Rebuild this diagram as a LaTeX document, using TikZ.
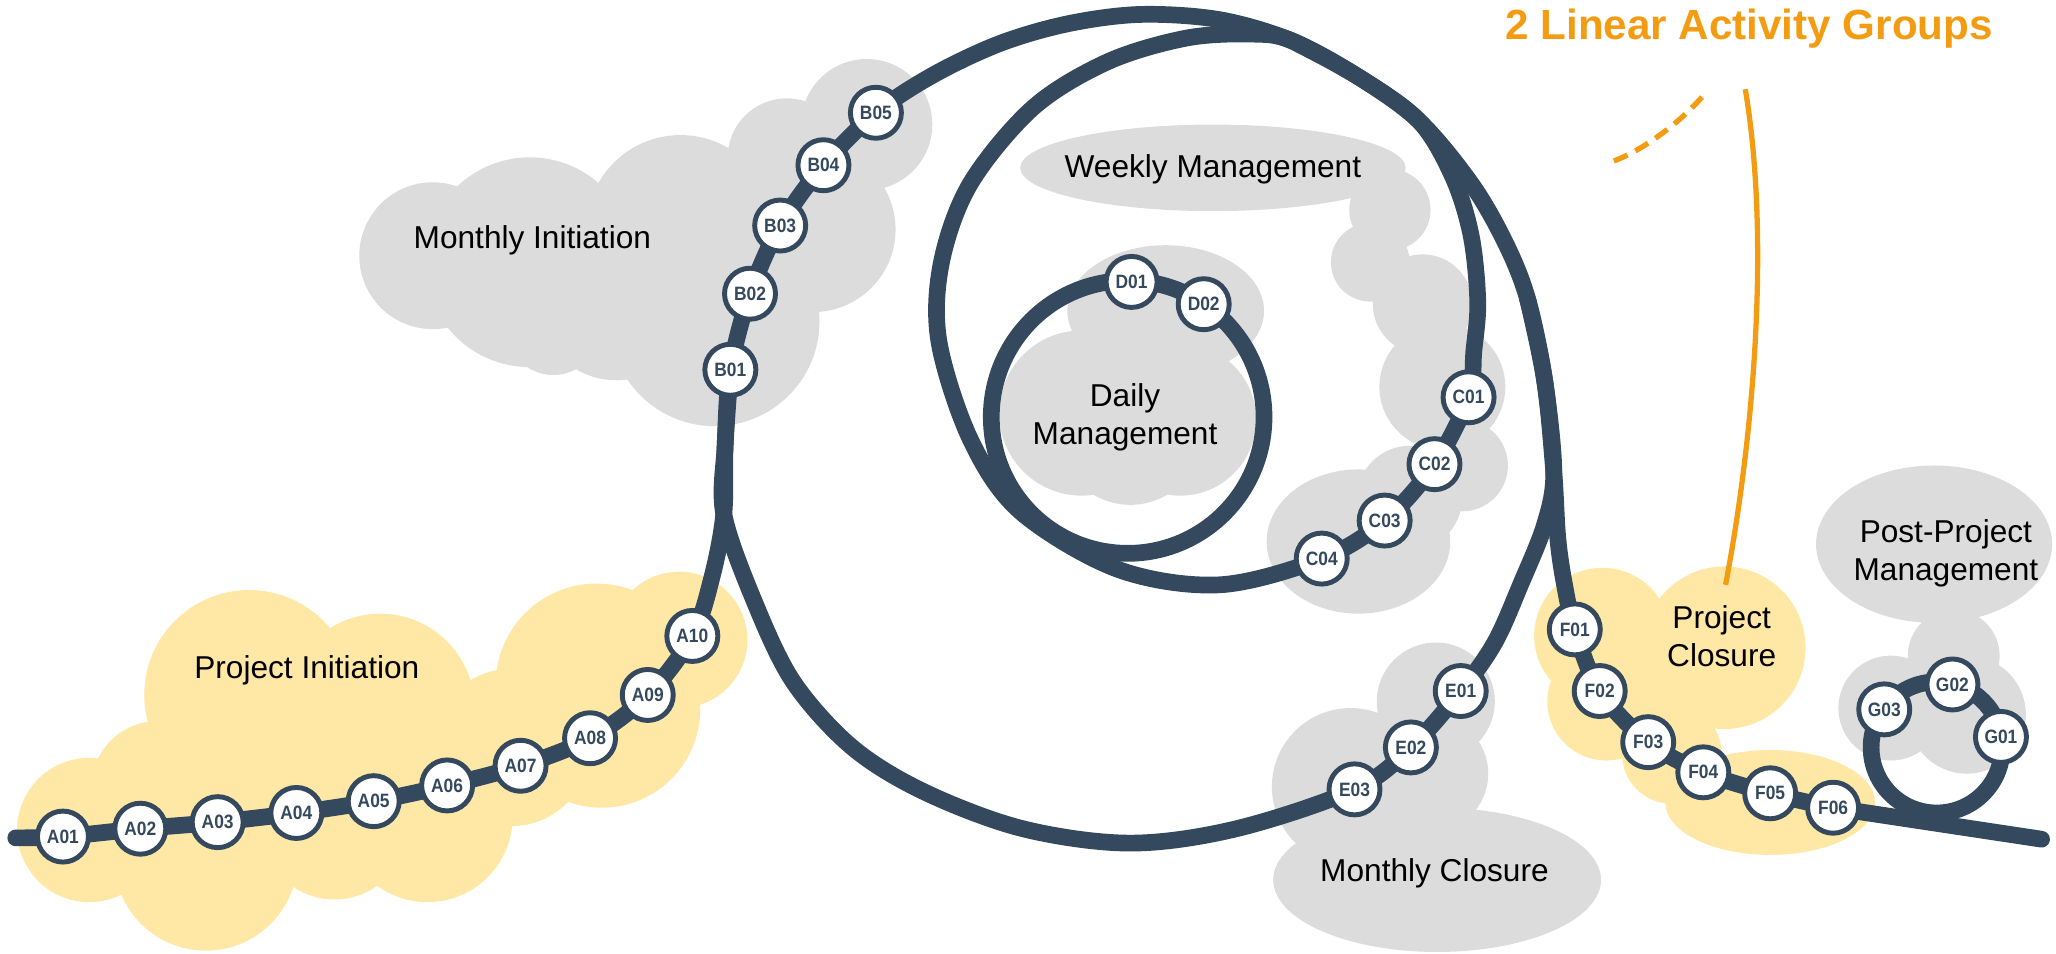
\documentclass[tikz,border=0pt]{standalone}
\usepackage{fontspec}
\setmainfont{Liberation Sans}
\newfontfamily\stationfont[FakeStretch=0.9]{Liberation Sans}
\usepackage{tikz}
\usetikzlibrary{calc}

\definecolor{navy}{HTML}{34495E}
\definecolor{cloudgray}{HTML}{DCDCDC}
\definecolor{cloudyellow}{HTML}{FFE8A5}
\definecolor{accent}{HTML}{F39C12}

\pgfdeclarelayer{clouds}
\pgfdeclarelayer{lines}
\pgfsetlayers{clouds,lines,main}

\tikzset{
	station/.style={circle, draw=navy, fill=white, line width=2.8pt, minimum size=1.02cm,
		inner sep=0pt, text=navy, font=\stationfont\bfseries\fontsize{11}{11}\selectfont},
	track/.style={draw=navy, line width=9.5pt, line cap=round, line join=round},
	graycloud/.style={fill=cloudgray},
	yellowcloud/.style={fill=cloudyellow},
	phase/.style={align=center, font=\fontsize{18}{21.6}\selectfont},
	pointer/.style={draw=accent, line width=3pt},
}

\begin{document}
\begin{tikzpicture}[x=0.026224cm, y=-0.026224cm]
	\useasboundingbox (0,0) rectangle (1568,727);
	
	% stations
	\foreach \n/\px/\py in {01/48/638, 02/107/632, 03/166/627, 04/226/620, 05/285/611,
		06/341/599, 07/397/584, 08/450/563, 09/494/530, 10/528/485}
		\node[station] (A\n) at (\px,\py) {A\n};
	\foreach \n/\px/\py in {01/557/282, 02/572/224, 03/595/172, 04/628/126, 05/668/86}
		\node[station] (B\n) at (\px,\py) {B\n};
	\foreach \n/\px/\py in {01/1120/303, 02/1094/354, 03/1056/397, 04/1008/426}
		\node[station] (C\n) at (\px,\py) {C\n};
	\foreach \n/\px/\py in {01/863/215, 02/918/232}
		\node[station] (D\n) at (\px,\py) {D\n};
	\foreach \n/\px/\py in {01/1114/527, 02/1076/570, 03/1033/602}
		\node[station] (E\n) at (\px,\py) {E\n};
	\foreach \n/\px/\py in {01/1201/480, 02/1220/527, 03/1257/566, 04/1299/589, 05/1350/605, 06/1398/616}
		\node[station] (F\n) at (\px,\py) {F\n};
	\foreach \n/\px/\py in {01/1526/562, 02/1489/522, 03/1437/541}
		\node[station] (G\n) at (\px,\py) {G\n};
	
	\coordinate (trackstart) at (12,639);
	\coordinate (trackend) at (1557,640);
	\coordinate (dailyhub) at (860,318);
	\coordinate (posthub) at (1477,570);
	
	% phase labels
	\node[phase] (pinit) at (234,511) {Project Initiation};
	\node[phase] (minit) at (406,183) {Monthly Initiation};
	\node[phase] (wmgmt) at (925,129) {Weekly Management};
	\node[phase] (dmgmt) at (858,318) {Daily\\Management};
	\node[phase] (mclose) at (1094,666) {Monthly Closure};
	\node[phase] (pclose) at (1313,485) {Project\\Closure};
	\node[phase] (postmgmt) at (1484,422) {Post-Project\\Management};
	
	\node[text=accent, font=\bfseries\fontsize{24}{28}\selectfont] (groups) at (1334,22) {2 Linear Activity Groups};
	\coordinate (solidtop) at (1331,68);
	\coordinate (solidend) at (1316,446);
	\coordinate (dashtop) at (1298,74);
	\coordinate (dashend) at (1230,123);
	\draw[pointer] (solidtop) .. controls (1350,180) and (1338,330) .. (solidend);
	\draw[pointer, dash pattern=on 8.5pt off 5pt] (dashtop) .. controls (1278,97) and (1248,117) .. (dashend);
	
	\begin{pgfonlayer}{lines}
		% project track
		\draw[track] plot[smooth, tension=0.55] coordinates {(trackstart) (A01.center) (A02.center)
			(A03.center) (A04.center) (A05.center) (A06.center) (A07.center) (A08.center)
			(A09.center) (A10.center) (543,440) (552,392) (553,340) (B01.center) (B02.center)
			(B03.center) (B04.center) (B05.center) (712,57) (763,33) (815,18) (870,11) (930,15)
			(985,31) (1035,58) (1082,92) (1122,140) (1148,185) (1165,228) (1178,290) (1185,360)
			(1188,410) (1193,445) (F01.center) (F02.center) (F03.center) (F04.center)
			(F05.center) (F06.center)} -- (trackend);
		% monthly loop
		\draw[track] plot[smooth, tension=0.55] coordinates {(B01.center) (553,340) (552,392)
			(575,458) (605,520) (650,570) (705,604) (780,632) (862,643) (943,632) (E03.center)
			(E02.center) (E01.center) (1140,490) (1160,445) (1178,400) (1185,360) (1178,290)
			(1165,228)};
		% weekly loop
		\draw[track] plot[smooth, tension=0.55] coordinates {(985,31) (1035,58) (1082,92) (1108,135)
			(1122,180) (1127,230) (1124,268) (C01.center) (C02.center) (C03.center) (C04.center)
			(930,446) (852,434) (778,390) (740,335) (716,260) (718,200) (740,140) (788,82)
			(845,47) (905,29) (955,26) (985,31) (1035,58)};
		% daily and post-project loops
		\draw[track] (dailyhub) circle (104);
		\draw[track] (posthub) circle (50);
	\end{pgfonlayer}
	
	\begin{pgfonlayer}{clouds}
		% project initiation
		\fill[yellowcloud] (68,633) circle (55) (157,655) circle (70) (190,530) circle (80)
			(290,540) circle (72) (255,630) circle (56) (326,623) circle (65) (455,522) circle (77)
			(518,488) circle (52) (459,541) circle (75) (120,600) circle (50) (300,590) circle (60)
			(390,570) circle (60);
		% monthly initiation
		\fill[graycloud] (330,195) circle (56) (404,200) circle (80) (519,175) circle (72)
			(600,120) circle (45) (661,95) circle (50) (620,175) circle (63) (545,245) circle (80)
			(422,250) circle (36) (470,230) circle (60);
		% weekly management
		\fill[graycloud] (925,128) ellipse [x radius=147, y radius=33] (1060,160) circle (31)
			(1045,200) circle (30) (1085,232) circle (38) (1100,295) circle (48) (1115,355) circle (35)
			(1036,413) ellipse [x radius=70, y radius=55] (1075,380) circle (40);
		% daily management
		\fill[graycloud] (889,237) ellipse [x radius=75, y radius=50] (825,315) circle (63)
			(900,320) circle (58) (862,330) circle (55);
		% monthly closure
		\fill[graycloud] (1096,671) ellipse [x radius=125, y radius=55] (1095,535) circle (45)
			(1030,600) circle (60) (1090,590) circle (45);
		% project closure
		\fill[yellowcloud] (1222,485) circle (52) (1315,494) circle (62) (1225,535) circle (45)
			(1275,575) circle (38) (1350,612) ellipse [x radius=80, y radius=40] (1265,520) circle (45);
		% post-project management
		\fill[graycloud] (1475,415) ellipse [x radius=90, y radius=60] (1442,540) circle (40)
			(1500,545) circle (45) (1490,500) circle (35);
	\end{pgfonlayer}
\end{tikzpicture}
\end{document}
